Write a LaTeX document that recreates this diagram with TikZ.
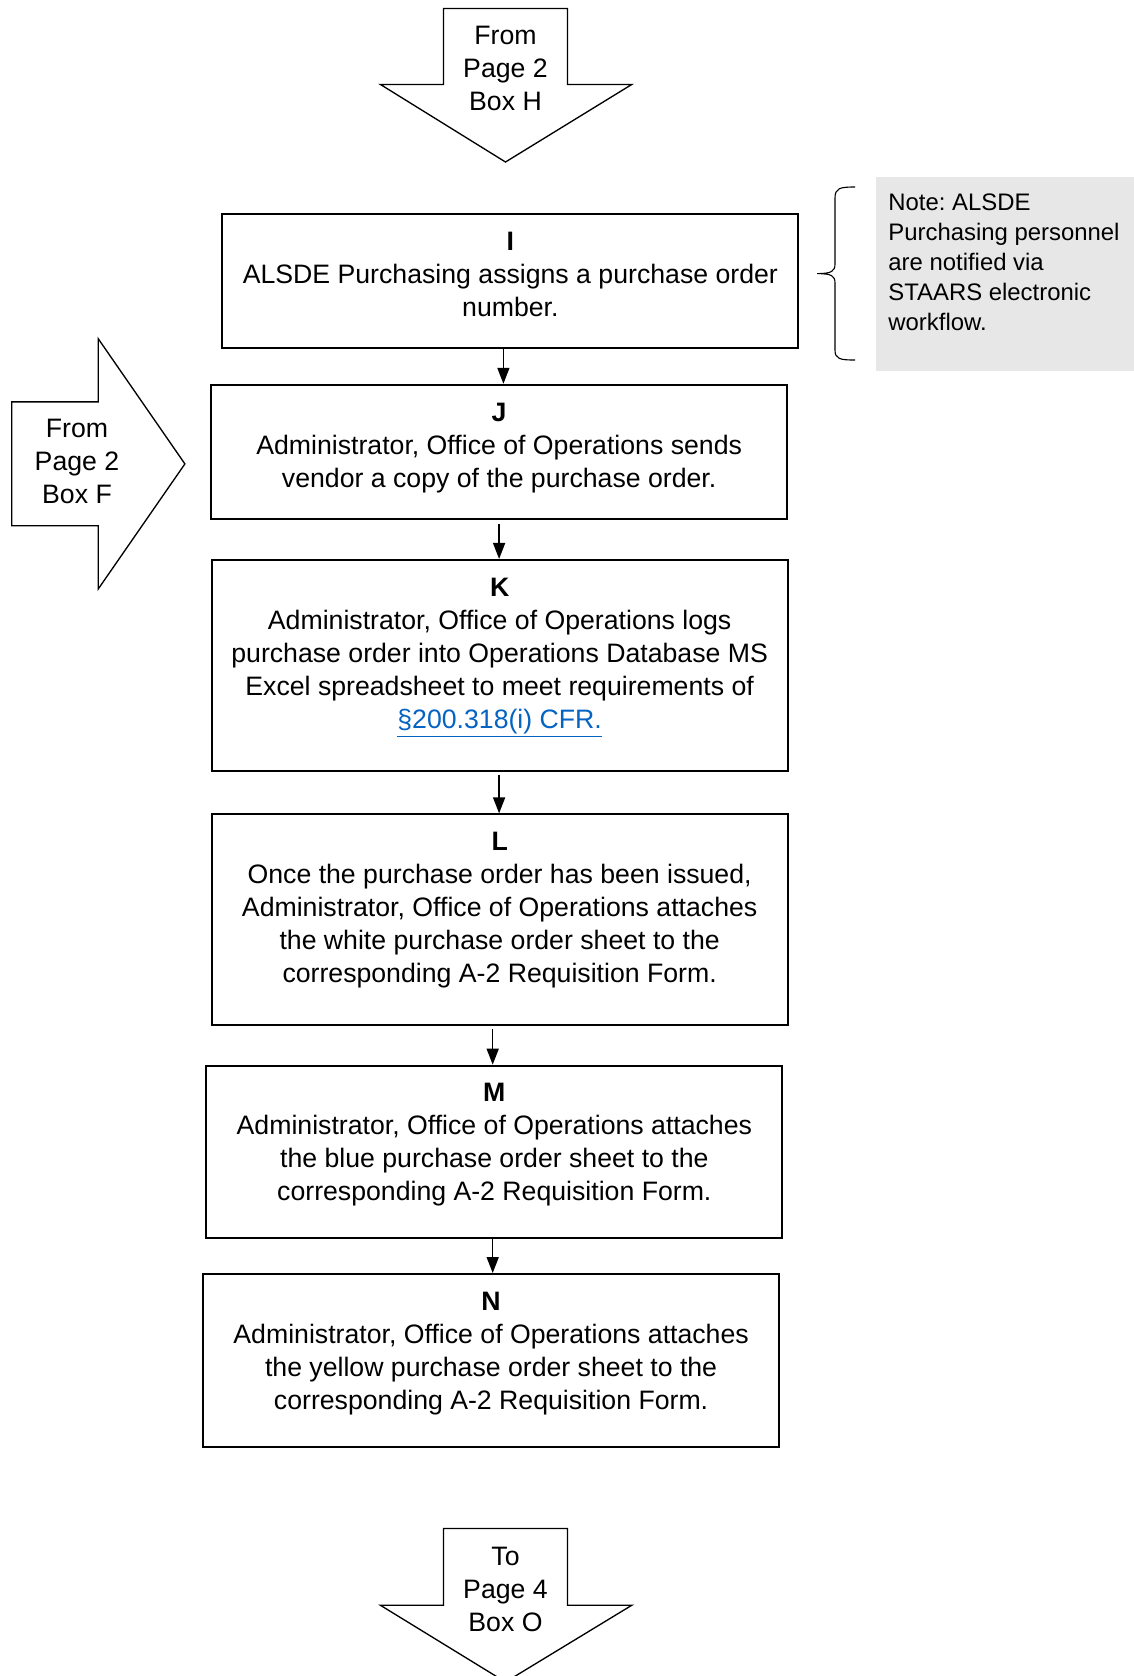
\documentclass[tikz,border=0pt]{standalone}
\usepackage{fontspec}
\setmainfont{Liberation Sans}
\frenchspacing
\usetikzlibrary{positioning}
\usetikzlibrary{arrows.meta}
\definecolor{notegray}{RGB}{231,231,231}
\definecolor{linkblue}{RGB}{5,99,193}
\tikzset{
    stepbox/.style = {draw, line width=0.9pt, minimum width=259.2pt, inner sep=0},
    steptext/.style = {anchor=north, align=center, inner sep=0, yshift=-8.3pt,
        font=\fontsize{12}{14.85}\selectfont},
    pagearrow/.style = {draw, line width=0.6pt},
    pagetext/.style = {align=center, inner sep=0, font=\fontsize{12}{14.85}\selectfont},
    flow/.style = {line width=0.7pt, -{Triangle[width=5.4pt,length=7.2pt]}},
}

\begin{document}
\begin{tikzpicture}[x=0.45pt, y=-0.45pt]
    \useasboundingbox (0,0) rectangle (1134,1676);

    % connector arrows to other pages
    \draw[pagearrow] (443.5,8.5) -- (567.5,8.5) -- (567.5,84.5) -- (631.7,84.5)
        -- (505.5,162) -- (380.5,84.5) -- (443.5,84.5) -- cycle;
    \node[pagetext] (fromH) at (505.5,68.3) {From\\Page 2\\Box H};

    \draw[pagearrow] (11.8,401.9) -- (98.3,401.9) -- (98.3,338.8) -- (184.9,463.9)
        -- (98.3,588.9) -- (98.3,525.8) -- (11.8,525.8) -- cycle;
    \node[pagetext] (fromF) at (77,461.7) {From\\Page 2\\Box F};

    \draw[pagearrow] (443.5,1528.4) -- (567.5,1528.4) -- (567.5,1605.3) -- (631.7,1605.3)
        -- (505.5,1682) -- (380.5,1605.3) -- (443.5,1605.3) -- cycle;
    \node[pagetext] (toO) at (505.5,1589.2) {To\\Page 4\\Box O};

    % note
    \node[fill=notegray, minimum width=116pt, minimum height=87.1pt, inner sep=0]
        (noteBox) at (1005.2,274.15) {};
    \node[anchor=north west, align=left, inner sep=0,
        font=\fontsize{10.75}{13.5}\selectfont]
        (noteText) at (888,193.5)
        {Note: ALSDE\\Purchasing personnel\\are notified via\\STAARS electronic\\workflow.};
    \draw[line width=0.5pt] (855,187) .. controls (840,187) and (835,188) .. (835,198)
        -- (835,264) .. controls (835,271) and (832,273.6) .. (817,273.6)
        .. controls (832,273.6) and (835,276) .. (835,283)
        -- (835,350) .. controls (835,359) and (840,360) .. (855,360);

    % steps
    \node[stepbox, minimum height=60.6pt] (boxI) at (510.35,281.1) {};
    \node[steptext] (textI) at (boxI.north)
        {\textbf{I}\\ALSDE Purchasing assigns a purchase order\\number.};

    \node[stepbox, minimum height=60.6pt] (boxJ) at (499.15,452.1) {};
    \node[steptext] (textJ) at (boxJ.north)
        {\textbf{J}\\Administrator, Office of Operations sends\\vendor a copy of the purchase order.};

    \node[stepbox, minimum height=94.8pt] (boxK) at (499.65,665.3) {};
    \node[steptext] (textK) at (boxK.north)
        {\textbf{K}\\Administrator, Office of Operations logs\\purchase order into Operations Database MS\\Excel spreadsheet to meet requirements of\\{\color{linkblue}\underline{§200.318(i) CFR.}}};

    \node[stepbox, minimum height=94.8pt] (boxL) at (499.65,919.7) {};
    \node[steptext] (textL) at (boxL.north)
        {\textbf{L}\\Once the purchase order has been issued,\\Administrator, Office of Operations attaches\\the white purchase order sheet to the\\corresponding A-2 Requisition Form.};

    \node[stepbox, minimum height=77.4pt] (boxM) at (494.35,1151.65) {};
    \node[steptext] (textM) at (boxM.north)
        {\textbf{M}\\Administrator, Office of Operations attaches\\the blue purchase order sheet to the\\corresponding A-2 Requisition Form.};

    \node[stepbox, minimum height=77.9pt] (boxN) at (491.1,1360.6) {};
    \node[steptext] (textN) at (boxN.north)
        {\textbf{N}\\Administrator, Office of Operations attaches\\the yellow purchase order sheet to the\\corresponding A-2 Requisition Form.};

    \coordinate (colA) at (503.4,0);
    \coordinate (colB) at (499.1,0);
    \coordinate (colC) at (492.7,0);
    \draw[flow] (boxI.south -| colA) -- (boxJ.north -| colA);
    \draw[flow, shorten <=1.5pt] (boxJ.south -| colB) -- (boxK.north -| colB);
    \draw[flow, shorten <=1.5pt] (boxK.south -| colB) -- (boxL.north -| colB);
    \draw[flow, shorten <=1.5pt] (boxL.south -| colC) -- (boxM.north -| colC);
    \draw[flow] (boxM.south -| colC) -- (boxN.north -| colC);
\end{tikzpicture}
\end{document}
